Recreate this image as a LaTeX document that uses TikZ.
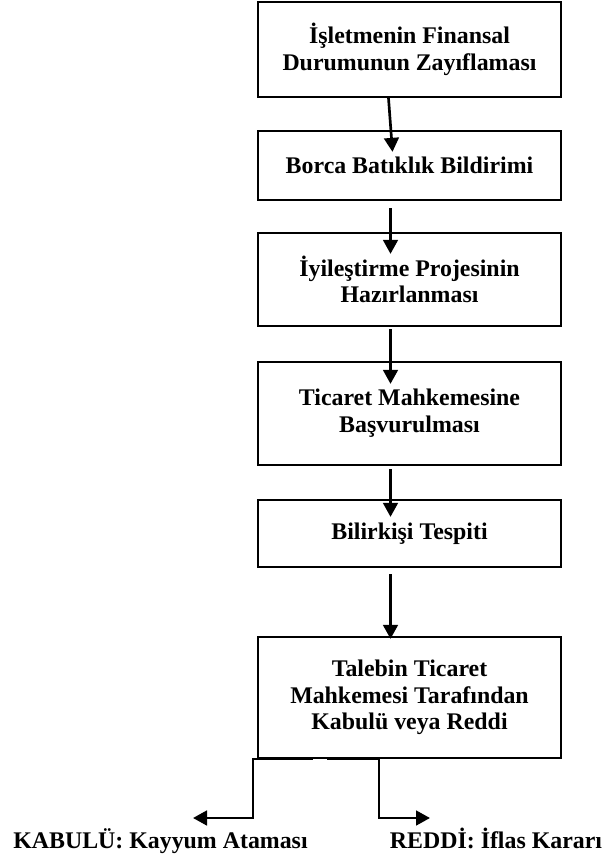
\documentclass[tikz,border=0pt]{standalone}
\usepackage{fontspec}
\setmainfont{Liberation Serif}
\usetikzlibrary{arrows.meta}
\begin{document}
\begin{tikzpicture}[x=0.75pt,y=-0.75pt,
		kutu/.style={draw,line width=1.7pt,minimum width=227.25pt,inner sep=2pt,align=center,font=\bfseries\fontsize{17.9}{20}\selectfont},
		ok/.style={line width=2pt,-{Triangle[length=10.5pt,width=11pt]}},
		etiket/.style={anchor=base,inner sep=0pt,font=\bfseries\fontsize{17.9}{20}\selectfont}]
			\useasboundingbox (0,0) rectangle (603,860);
			\node[kutu,minimum height=71.25pt] (isletme) at (409.5,49.5) {İşletmenin Finansal\\Durumunun Zayıflaması};
			\node[kutu,minimum height=51.75pt] (borca) at (409.5,165.5) {Borca Batıklık Bildirimi};
			\node[kutu,minimum height=69.75pt] (iyilestirme) at (409.5,279.5) {İyileştirme Projesinin\\Hazırlanması};
			\node[kutu,minimum height=77.25pt] (basvuru) at (409.5,413.5) {Ticaret Mahkemesine\\Başvurulması};
			\node[kutu,minimum height=50.25pt] (bilirkisi) at (409.5,533.5) {Bilirkişi Tespiti};
			\node[kutu,minimum height=90.75pt] (talep) at (409.5,697.5) {Talebin Ticaret\\Mahkemesi Tarafından\\Kabulü veya Reddi};
			\coordinate (kabulucu) at (193,818);
			\coordinate (reducu) at (430,818);
			\node[etiket] (kabul) at (160.5,848) {KABULÜ: Kayyum Ataması};
			\node[etiket] (ret) at (496,848) {REDDİ: İflas Kararı};
			\draw[ok] ([xshift=-15.75pt]isletme.south) -- ([xshift=-12.75pt,yshift=-16.5pt]borca.north);
			\draw[ok] ([xshift=-14.25pt,yshift=-5.25pt]borca.south) -- ([xshift=-14.25pt,yshift=-16.5pt]iyilestirme.north);
			\draw[ok] ([xshift=-14.25pt,yshift=-1.5pt]iyilestirme.south) -- ([xshift=-14.25pt,yshift=-17.25pt]basvuru.north);
			\draw[ok] ([xshift=-14.25pt,yshift=-2.25pt]basvuru.south) -- ([xshift=-14.25pt,yshift=-13.5pt]bilirkisi.north);
			\draw[ok] ([xshift=-14.25pt,yshift=-4.5pt]bilirkisi.south) -- ([xshift=-14.25pt,yshift=-2.25pt]talep.north);
			\draw[ok] ([xshift=-72.4pt]talep.south) -- ++(-60,0) |- (kabulucu);
			\draw[ok] ([xshift=-61.9pt]talep.south) -- ++(52,0) |- (reducu);
		\end{tikzpicture}
\end{document}
